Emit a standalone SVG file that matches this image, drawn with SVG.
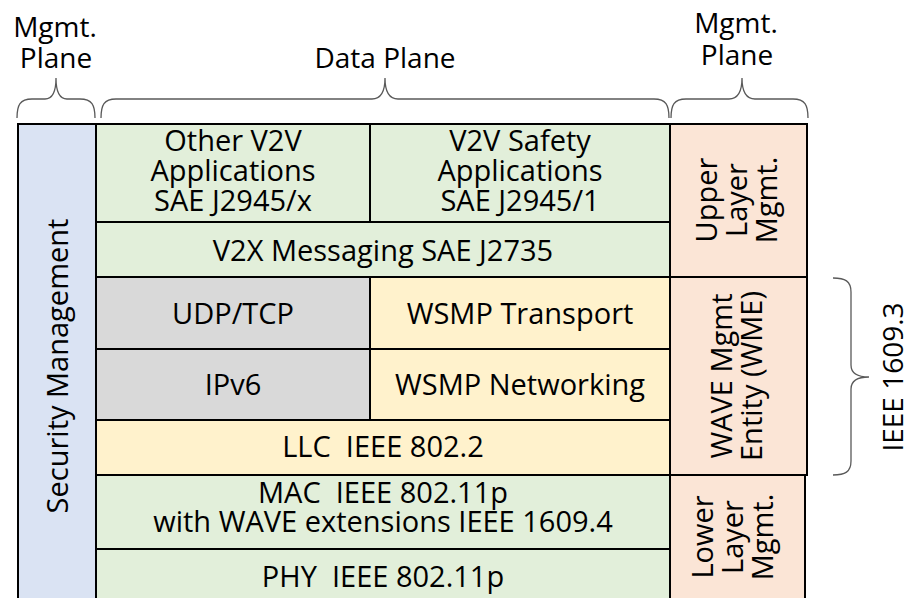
<svg xmlns="http://www.w3.org/2000/svg" width="906" height="598" viewBox="0 0 906 598">
  <style>
    text { font-family: "Open Sans", "Liberation Sans", sans-serif; fill: #000; }
    .pre { white-space: pre; }
    .lbl { font-size: 29px; text-anchor: middle; }
    .hdr { font-size: 28px; text-anchor: middle; }
    .box { stroke: #000; stroke-width: 2; }
    .green { fill: #E2EFDA; }
    .gray { fill: #D9D9D9; }
    .yellow { fill: #FFF2CC; }
    .blue { fill: #DAE3F3; }
    .peach { fill: #FBE5D6; }
    .brace { fill: none; stroke: #595959; stroke-width: 1.3; }
  </style>
  <rect width="906" height="598" fill="#fff"/>

  <!-- plane headings -->
  <g id="hdr-mgmt-left">
    <text class="hdr" x="55" y="37">Mgmt.</text>
    <text class="hdr" x="56" y="68">Plane</text>
  </g>
  <g id="hdr-data">
    <text class="hdr" x="385" y="68">Data Plane</text>
  </g>
  <g id="hdr-mgmt-right">
    <text class="hdr" x="736" y="33">Mgmt.</text>
    <text class="hdr" x="737" y="65">Plane</text>
  </g>

  <!-- braces -->
  <g id="braces">
    <path class="brace" d="M17,118 C17,105 20,99 32,99 H45 C52,99 56,92 56,78 C56,92 60,99 67,99 H80 C92,99 95,105 95,118"/>
    <path class="brace" d="M101,118 C101,105 104,99 116,99 H372 C380,99 385,92 385,78 C385,92 390,99 398,99 H654 C666,99 669,105 669,118"/>
    <path class="brace" d="M671,118 C671,105 674,99 686,99 H729 C737,99 742,92 742,78 C742,92 747,99 755,99 H793 C805,99 808,105 808,118"/>
    <path class="brace" d="M833,278 C845,278 851,281 851,292 V365 C851,373 856,377 869,377 C856,377 851,381 851,389 V461 C851,472 845,475 833,475"/>
  </g>

  <g id="ieee-1609-3">
    <text class="hdr" transform="translate(903,377) rotate(-90)" x="0" y="0">IEEE 1609.3</text>
  </g>

  <!-- security management column -->
  <g id="security-mgmt">
    <rect class="box blue" x="18" y="124" width="78" height="480"/>
    <text class="lbl" transform="translate(57,366) rotate(-90)" x="0" y="11">Security Management</text>
  </g>

  <!-- data plane stack -->
  <g id="other-v2v">
    <rect class="box green" x="96" y="124" width="274" height="98"/>
    <text class="lbl" x="233" y="151">Other V2V</text>
    <text class="lbl" x="233" y="181">Applications</text>
    <text class="lbl" x="233" y="211">SAE J2945/x</text>
  </g>
  <g id="v2v-safety">
    <rect class="box green" x="370" y="124" width="300" height="98"/>
    <text class="lbl" x="520" y="151">V2V Safety</text>
    <text class="lbl" x="520" y="181">Applications</text>
    <text class="lbl" x="520" y="211">SAE J2945/1</text>
  </g>
  <g id="v2x-messaging">
    <rect class="box green" x="96" y="222" width="574" height="55" stroke-width="2.5"/>
    <text class="lbl" x="383" y="261">V2X Messaging SAE J2735</text>
  </g>
  <g id="udp-tcp">
    <rect class="box gray" x="96" y="277" width="274" height="72"/>
    <text class="lbl" x="233" y="324">UDP/TCP</text>
  </g>
  <g id="wsmp-transport">
    <rect class="box yellow" x="370" y="277" width="300" height="72"/>
    <text class="lbl" x="520" y="324">WSMP Transport</text>
  </g>
  <g id="ipv6">
    <rect class="box gray" x="96" y="349" width="274" height="71"/>
    <text class="lbl" x="233" y="395">IPv6</text>
  </g>
  <g id="wsmp-networking">
    <rect class="box yellow" x="370" y="349" width="300" height="71"/>
    <text class="lbl" x="520" y="395">WSMP Networking</text>
  </g>
  <g id="llc">
    <rect class="box yellow" x="96" y="420" width="574" height="55"/>
    <text class="lbl pre" x="383" y="457">LLC  IEEE 802.2</text>
  </g>
  <g id="mac">
    <rect class="box green" x="96" y="475" width="574" height="74"/>
    <text class="lbl pre" x="383" y="503">MAC  IEEE 802.11p</text>
    <text class="lbl" x="383" y="532">with WAVE extensions IEEE 1609.4</text>
  </g>
  <g id="phy">
    <rect class="box green" x="96" y="549" width="574" height="55"/>
    <text class="lbl pre" x="383" y="587">PHY  IEEE 802.11p</text>
  </g>

  <!-- management plane column -->
  <g id="upper-layer-mgmt">
    <rect class="box peach" x="670" y="124" width="137" height="153"/>
    <text class="lbl" transform="translate(738,200) rotate(-90)"><tspan x="0" y="-21">Upper</tspan><tspan x="0" y="9">Layer</tspan><tspan x="0" y="39">Mgmt.</tspan></text>
  </g>
  <g id="wave-mgmt-entity">
    <rect class="box peach" x="670" y="277" width="137" height="198"/>
    <text class="lbl" transform="translate(738,376) rotate(-90)"><tspan x="0" y="-6">WAVE Mgmt</tspan><tspan x="0" y="24">Entity (WME)</tspan></text>
  </g>
  <g id="lower-layer-mgmt">
    <rect class="box peach" x="670" y="475" width="135" height="130"/>
    <text class="lbl" transform="translate(738,537) rotate(-90)"><tspan x="0" y="-25">Lower</tspan><tspan x="0" y="5">Layer</tspan><tspan x="0" y="35">Mgmt.</tspan></text>
  </g>
</svg>
